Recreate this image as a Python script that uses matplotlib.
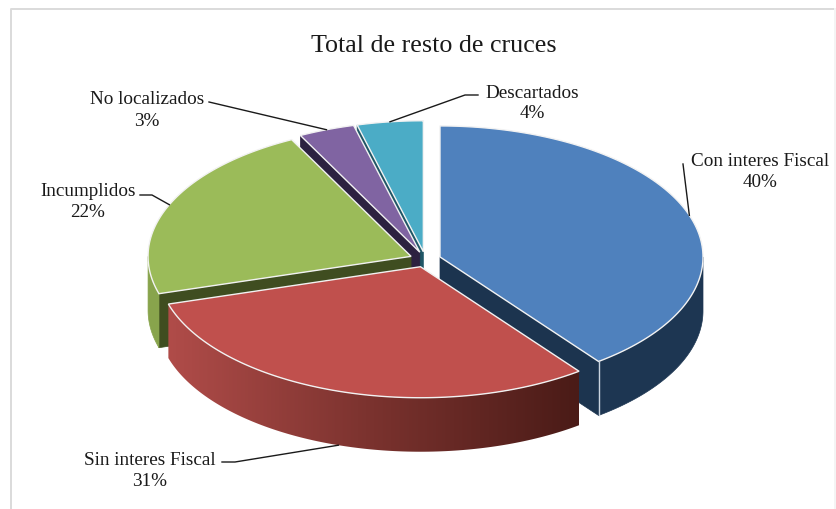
#!/usr/bin/env python
import numpy as np
from matplotlib import pyplot as plt
from matplotlib.colors import LinearSegmentedColormap
from matplotlib.patches import Polygon

# data
labels = ['Con interes Fiscal', 'Sin interes Fiscal', 'Incumplidos', 'No localizados', 'Descartados']
values = [39.7, 30.7, 22.1, 3.45, 4.05]
top_colors = ['#4F81BD', '#C0504D', '#9BBB59', '#8064A2', '#4BACC6']
wall_colors = ['#1C344F', '#4A1B17', '#3F4D20', '#2C2140', '#1F5666']
outer_colors = ['#1D3652', None, '#88A44C', None, None]
red_side = LinearSegmentedColormap.from_list('red_side', ['#B04C49', '#7A322E', '#4A1B17'])

# pie geometry, in pixels of the picture
cx, cy = 425.3, 260.4
rx, ry = 263, 131
explode = 15.5
depth = 54

# label centre x and y of the first line, then the leader's elbow points
label_pos = [(760, 162), (150, 461), (88, 192), (147, 100), (532, 93)]
elbows = [[(683, 165)], [(222, 463), (235, 463)], [(140, 196), (152, 196)], [(209, 103)], [(478, 96), (465, 96)]]

plt.rcParams['font.family'] = ['Liberation Serif', 'DejaVu Serif']

fig = plt.figure(figsize=(8.37, 5.10), dpi=100)
ax = fig.add_axes([0, 0, 1, 1])
ax.axis('off')

# chart frame
ax.plot([11, 11, 835], [510, 10, 10], color='#DADADA', lw=1.4)
ax.plot([835, 835], [10, 510], color='#F4F4F4', lw=1.4)


def rim(ox, oy, a):
    t = np.radians(a)
    return ox + rx * np.sin(t), oy - ry * np.cos(t)


angles = np.cumsum([0] + values) * 3.6
slices = []
for i in range(len(values)):
    a0, a1 = angles[i], angles[i + 1]
    mid = (a0 + a1) / 2
    ox = cx + explode * np.sin(np.radians(mid))
    oy = cy - explode * ry / rx * np.cos(np.radians(mid))
    slices.append((i, a0, a1, mid, ox, oy))

# back to front
for i, a0, a1, mid, ox, oy in [slices[k] for k in (4, 3, 2, 0, 1)]:
    # flat side walls facing the viewer
    for a, show in ((a0, a0 > 180), (a1, a1 < 180)):
        if show:
            x, y = rim(ox, oy, a)
            ax.fill([ox, x, x, ox], [oy, y, y + depth, oy + depth], color=wall_colors[i], lw=0.5)

    # curved outer wall
    lo, hi = max(a0, 90), min(a1, 270)
    if lo < hi:
        steps = np.linspace(lo, hi, 120)
        xs, ys = rim(ox, oy, steps)
        wall = np.c_[np.r_[xs, xs[::-1]], np.r_[ys, ys[::-1] + depth]]
        if i == 1:
            grad = np.linspace(0, 1, 256).reshape(1, -1)
            im = ax.imshow(grad, cmap=red_side, aspect='auto', zorder=1,
                           extent=[xs.min(), xs.max(), ys.max() + depth, ys.min()])
            im.set_clip_path(Polygon(wall, transform=ax.transData))
        else:
            ax.fill(wall[:, 0], wall[:, 1], color=outer_colors[i], lw=0.5)
        # light vertical edge at the corner of the slice
        if a1 < 180:
            ax.plot([xs[-1], xs[-1]], [ys[-1], ys[-1] + depth], color='#C9D3DE', lw=1)

    # top face
    steps = np.linspace(a0, a1, 120)
    xs, ys = rim(ox, oy, steps)
    ax.fill(np.r_[ox, xs], np.r_[oy, ys], facecolor=top_colors[i], edgecolor='#F2F2F2', lw=1.0,
            joinstyle='miter')

# labels and leader lines
for i, a0, a1, mid, ox, oy in slices:
    x, y = rim(ox, oy, mid)
    if 90 < mid < 270:
        y = y + depth
    pts = elbows[i] + [(x, y)]
    ax.plot([p[0] for p in pts], [p[1] for p in pts], color='#1A1A1A', lw=1, zorder=3)
    lx, ly = label_pos[i]
    ax.text(lx, ly, labels[i], ha='center', va='center', fontsize=13.8, color='#1A1A1A')
    ax.text(lx, ly + 21, f'{values[i]:.0f}%', ha='center', va='center', fontsize=13.8, color='#1A1A1A')

ax.text(434, 46, 'Total de resto de cruces', ha='center', va='center', fontsize=18.7, color='#1A1A1A')

ax.set_xlim(0, 837)
ax.set_ylim(510, 0)

plt.savefig('out.png', dpi=100)
